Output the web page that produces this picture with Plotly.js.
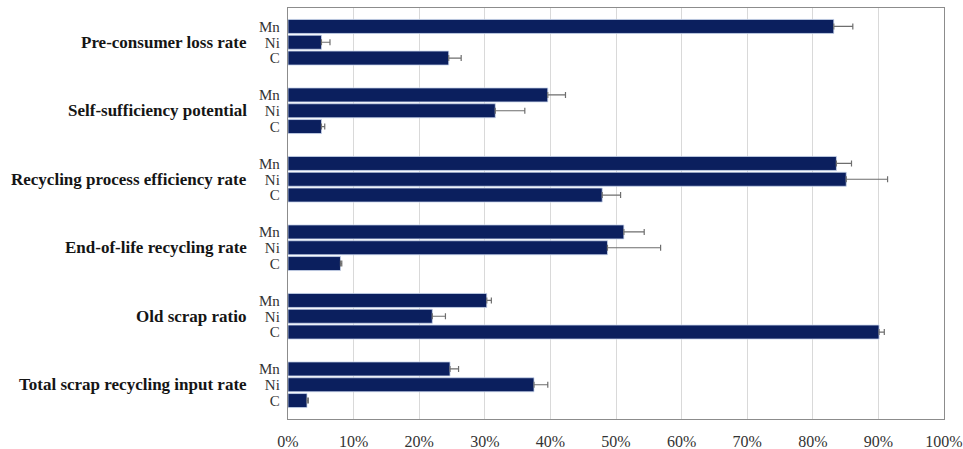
<!DOCTYPE html>
<html>
<head>
<meta charset="utf-8">
<script src="https://cdn.plot.ly/plotly-3.0.1.min.js"></script>
<style>
  html, body { margin: 0; padding: 0; background: #ffffff; }
  #chart { width: 963px; height: 449px; }
</style>
</head>
<body>
<div id="chart"></div>
<script>
// Indicator groups, top to bottom
const groups = [
  'Pre-consumer loss rate',
  'Self-sufficiency potential',
  'Recycling process efficiency rate',
  'End-of-life recycling rate',
  'Old scrap ratio',
  'Total scrap recycling input rate'
];
// Elements within each group, top to bottom
const elements = ['Mn', 'Ni', 'C'];

// Indicator values (%) per element, in group order
const mnValues = [83.2, 39.6, 83.6, 51.2, 30.3, 24.7];
const niValues = [5.1, 31.6, 85.1, 48.7, 22.0, 37.5];
const cValues  = [24.5, 5.1, 47.9, 8.0, 90.1, 2.9];

// Upper error (%) per element, in group order
const mnErrors = [2.9, 2.7, 2.3, 3.1, 0.7, 1.3];
const niErrors = [1.3, 4.5, 6.3, 8.1, 2.0, 2.1];
const cErrors  = [1.9, 0.5, 2.8, 0.2, 0.8, 0.2];

const seriesValues = [mnValues, niValues, cValues];
const seriesErrors = [mnErrors, niErrors, cErrors];

// Vertical layout: one unit per bar slot, groups spaced further apart
const groupStep = 4.335;
const barColor = '#0b1f5e';
const serif = 'Liberation Serif, Times New Roman, DejaVu Serif, serif';

const yPos = (g, e) => g * groupStep + (e - 1);

const traces = elements.map((el, e) => ({
  type: 'bar',
  orientation: 'h',
  name: el,
  x: seriesValues[e],
  y: groups.map((_, g) => yPos(g, e)),
  width: 0.886,
  marker: { color: barColor, line: { color: '#c9d5ec', width: 0.8 } },
  error_x: {
    type: 'data',
    symmetric: false,
    array: seriesErrors[e],
    arrayminus: seriesErrors[e].map(() => 0),
    color: '#6e6e6e',
    thickness: 1.2,
    width: 3
  },
  hoverinfo: 'skip'
}));

const tickvals = [];
const ticktext = [];
groups.forEach((_, g) => elements.forEach((el, e) => {
  tickvals.push(yPos(g, e));
  ticktext.push(el);
}));

const annotations = groups.map((name, g) => ({
  text: '<b>' + name + '</b>',
  xref: 'paper', x: 0, xanchor: 'right', xshift: -39,
  yref: 'y', y: yPos(g, 1), yanchor: 'middle',
  showarrow: false,
  font: { family: serif, size: 17, color: '#151515' }
}));

const layout = {
  width: 963,
  height: 449,
  margin: { l: 288, r: 19, t: 8, b: 30 },
  paper_bgcolor: '#ffffff',
  plot_bgcolor: '#ffffff',
  showlegend: false,
  barmode: 'overlay',
  font: { family: serif },
  xaxis: {
    range: [0, 100],
    dtick: 10,
    ticksuffix: '%',
    showgrid: true,
    gridcolor: '#d9d9d9',
    gridwidth: 1,
    zeroline: false,
    showline: true,
    linecolor: '#8c8c8c',
    linewidth: 1.2,
    mirror: true,
    ticks: '',
    ticklabelstandoff: 8,
    tickfont: { family: serif, size: 16, color: '#333333' },
    fixedrange: true
  },
  yaxis: {
    range: [yPos(5, 1) + groupStep / 2, yPos(0, 1) - groupStep / 2],
    tickvals: tickvals,
    ticktext: ticktext,
    showgrid: false,
    zeroline: false,
    showline: true,
    linecolor: '#8c8c8c',
    linewidth: 1.2,
    mirror: true,
    ticks: '',
    ticklabelstandoff: 4,
    tickfont: { family: serif, size: 15, color: '#333333' },
    fixedrange: true
  },
  annotations: annotations
};

Plotly.newPlot('chart', traces, layout, { displayModeBar: false, staticPlot: true });
</script>
</body>
</html>
